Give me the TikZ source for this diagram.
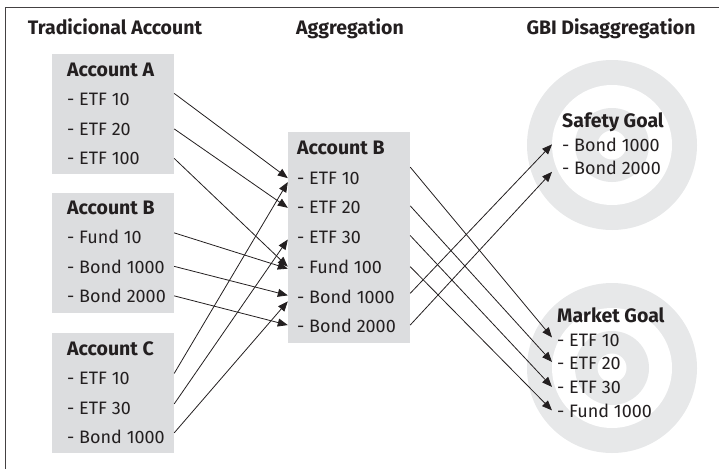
\documentclass[tikz,border=0pt]{standalone}
\usepackage{fontspec}
\setmainfont{Fira Sans}
\usetikzlibrary{arrows.meta}
\definecolor{boxgray}{HTML}{DCDDDF}
\definecolor{ringgray}{HTML}{E7E8E9}
\definecolor{ink}{HTML}{231F20}

\begin{document}
\begin{tikzpicture}[x=1pt,y=-1pt,
  every node/.style={inner sep=0pt,text=ink,font=\fontsize{18}{22}\selectfont},
  head/.style={anchor=base,font=\fontsize{19.5}{22}\selectfont\bfseries},
  title/.style={anchor=base west,font=\fontsize{19.5}{22}\selectfont\bfseries},
  item/.style={anchor=base west},
  acct/.style={fill=boxgray,minimum width=122pt},
  link/.style={draw=ink,line width=0.8pt,-{Triangle[length=10pt,width=8pt]}}]
  \useasboundingbox (0,0) rectangle (719,469);

  % Frame
  \draw[ink!85,line width=0.8pt] (719,7) -- (5,7) -- (5,469);

  % Headings
  \node[head] (h1) at (115,34) {Tradicional Account};
  \node[head] (h2) at (350,34) {Aggregation};
  \node[head] (h3) at (611,34) {GBI Disaggregation};

  % Goal targets
  \foreach \c in {(612,145),(612,368)} {
    \fill[ringgray] \c circle (85);
    \fill[white] \c circle (60);
    \fill[ringgray] \c circle (37);
    \fill[white] \c circle (14.5);
  }

  % Account boxes
  \node[acct,minimum height=120pt] (accA) at (113,114) {};
  \node[acct,minimum height=120pt] (accB) at (113,253) {};
  \node[acct,minimum height=120pt] (accC) at (113,393) {};
  \node[acct,minimum height=211pt] (agg) at (349,237.5) {};

  % Account A
  \node[title] (a0) at (67,76) {Account A};
  \node[item] (a1) at (67,105.5) {- ETF 10};
  \node[item] (a2) at (67,135) {- ETF 20};
  \node[item] (a3) at (67,164.5) {- ETF 100};

  % Account B
  \node[title] (b0) at (67,214) {Account B};
  \node[item] (b1) at (67,243.5) {- Fund 10};
  \node[item] (b2) at (67,273) {- Bond 1000};
  \node[item] (b3) at (67,302.5) {- Bond 2000};

  % Account C
  \node[title] (c0) at (67,355) {Account C};
  \node[item] (c1) at (67,384.5) {- ETF 10};
  \node[item] (c2) at (67,414) {- ETF 30};
  \node[item] (c3) at (67,443.5) {- Bond 1000};

  % Aggregated account
  \node[title] (g0) at (297,154.5) {Account B};
  \node[item] (g1) at (297,184.2) {- ETF 10};
  \node[item] (g2) at (297,213.9) {- ETF 20};
  \node[item] (g3) at (297,243.6) {- ETF 30};
  \node[item] (g4) at (297,273.3) {- Fund 100};
  \node[item] (g5) at (297,303) {- Bond 1000};
  \node[item] (g6) at (297,332.7) {- Bond 2000};

  % Safety goal
  \node[title] (s0) at (562,127) {Safety Goal};
  \node[item] (s1) at (562,151) {- Bond 1000};
  \node[item] (s2) at (562,174.5) {- Bond 2000};

  % Market goal
  \node[title] (m0) at (557,322) {Market Goal};
  \node[item] (m1) at (557,346) {- ETF 10};
  \node[item] (m2) at (557,369.5) {- ETF 20};
  \node[item] (m3) at (557,393) {- ETF 30};
  \node[item] (m4) at (557,417) {- Fund 1000};

  % Aggregation links
  \draw[link] ([yshift=6pt]a1.west -| accA.east) -- (g1.west -| agg.west);
  \draw[link] (a2.west -| accA.east) -- (g2.west -| agg.west);
  \draw[link] (a3.west -| accA.east) -- (g4.west -| agg.west);
  \draw[link] ([yshift=4pt]b1.west -| accB.east) -- ([yshift=-2pt]g4.west -| agg.west);
  \draw[link] (b2.west -| accB.east) -- ([yshift=1pt]g5.west -| agg.west);
  \draw[link] (b3.west -| accB.east) -- ([yshift=1pt]g6.west -| agg.west);
  \draw[link] ([yshift=5pt]c1.west -| accC.east) -- ([yshift=-4pt]g1.west -| agg.west);
  \draw[link] ([yshift=4pt]c2.west -| accC.east) -- ([yshift=-2pt]g3.west -| agg.west);
  \draw[link] ([yshift=4pt]c3.west -| accC.east) -- ([yshift=-5pt]g5.west -| agg.west);

  % Disaggregation links
  \draw[link] ([yshift=3pt]g5.west -| agg.east) -- ([xshift=-10pt]s1.west);
  \draw[link] ([yshift=1pt]g6.west -| agg.east) -- ([xshift=-10pt,yshift=-4pt]s2.west);
  \draw[link] ([yshift=11pt]g1.west -| agg.east) -- ([xshift=-5pt,yshift=2.5pt]m1.west);
  \draw[link] ([yshift=2pt]g2.west -| agg.east) -- ([xshift=-5pt,yshift=1.5pt]m2.west);
  \draw[link] ([yshift=2pt]g3.west -| agg.east) -- ([xshift=-5pt]m3.west);
  \draw[link] (g4.west -| agg.east) -- ([xshift=-5pt]m4.west);
\end{tikzpicture}
\end{document}
